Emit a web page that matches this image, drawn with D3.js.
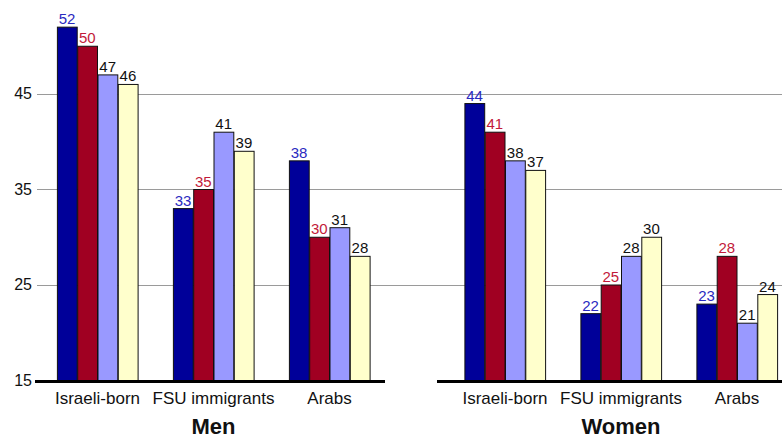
<!DOCTYPE html>
<html>
<head>
<meta charset="utf-8">
<script src="https://cdn.jsdelivr.net/npm/d3@7"></script>
<style>
  html, body { margin: 0; padding: 0; background: #fff; }
  svg { display: block; font-family: "Liberation Sans", Arial, sans-serif; }
</style>
</head>
<body>
<svg id="chart" width="782" height="439"></svg>
<script>
// Groups shown in each panel
const categories = ["Israeli-born", "FSU immigrants", "Arabs"];
const seriesKeys = ["s1", "s2", "s3", "s4"];

// Values per group, four bars each (same series order in both panels)
const menValues = [
  [52, 50, 47, 46],
  [33, 35, 41, 39],
  [38, 30, 31, 28]
];
const womenValues = [
  [44, 41, 38, 37],
  [22, 25, 28, 30],
  [23, 28, 21, 24]
];

const yTicks = [15, 25, 35, 45];
const panelTitles = ["Men", "Women"];

const fills = ["#000099", "#A00022", "#9999FF", "#FFFFCC"];
const labelColors = ["#2A2AC0", "#C21A3A", "#111111", "#111111"];

const FONT = "'Liberation Sans', Arial, sans-serif";
const svg = d3.select("#chart");

const y = d3.scaleLinear().domain([15, 45]).range([380, 93.5]);

// Horizontal gridlines across the full width
svg.append("g")
  .selectAll("line")
  .data(yTicks.filter(t => t !== 15))
  .join("line")
  .attr("x1", 37).attr("x2", 782)
  .attr("y1", d => Math.round(y(d)) + 0.5)
  .attr("y2", d => Math.round(y(d)) + 0.5)
  .attr("stroke", "#9a9a9a")
  .attr("stroke-width", 1.2);

// Left value axis labels
const yAxis = d3.axisLeft(y).tickValues(yTicks).tickSize(0).tickPadding(5);
const gy = svg.append("g").attr("transform", "translate(37,0)").call(yAxis);
gy.select(".domain").remove();
gy.attr("font-size", 16).attr("font-family", FONT);
gy.selectAll("text").attr("fill", "#111");

const panels = [
  { values: menValues, range: [39.5, 387.5], base: [35, 385], title: panelTitles[0] },
  { values: womenValues, range: [447, 795], base: [437, 782], title: panelTitles[1] }
];

panels.forEach(p => {
  const x0 = d3.scaleBand().domain(categories).range(p.range)
    .paddingInner(0.3).paddingOuter(0.15);
  const x1 = d3.scaleBand().domain(seriesKeys).range([0, x0.bandwidth()]);

  const g = svg.append("g");

  const groups = g.selectAll("g.grp")
    .data(categories.map((c, i) => ({ c, vals: p.values[i] })))
    .join("g")
    .attr("class", "grp")
    .attr("transform", d => `translate(${x0(d.c)},0)`);

  groups.selectAll("rect")
    .data(d => d.vals.map((v, k) => ({ v, k })))
    .join("rect")
    .attr("x", d => x1(seriesKeys[d.k]) + 0.5)
    .attr("y", d => y(d.v) + 0.5)
    .attr("width", x1.bandwidth() - 0.5)
    .attr("height", d => y(15) - y(d.v))
    .attr("fill", d => fills[d.k])
    .attr("stroke", "#111")
    .attr("stroke-width", 1);

  groups.selectAll("text")
    .data(d => d.vals.map((v, k) => ({ v, k })))
    .join("text")
    .attr("x", d => x1(seriesKeys[d.k]) + x1.bandwidth() / 2)
    .attr("y", d => y(d.v) - 2.5)
    .attr("text-anchor", "middle")
    .attr("font-size", 15)
    .attr("font-family", FONT)
    .attr("fill", d => labelColors[d.k])
    .text(d => d.v);

  // Thick baseline
  g.append("line")
    .attr("x1", p.base[0]).attr("x2", p.base[1])
    .attr("y1", 381.5).attr("y2", 381.5)
    .attr("stroke", "#000").attr("stroke-width", 3);

  // Category labels
  const xAxis = d3.axisBottom(x0).tickSize(0).tickPadding(0);
  const gx = g.append("g").attr("transform", "translate(0,0)").call(xAxis);
  gx.select(".domain").remove();
  gx.attr("font-size", 17).attr("font-family", FONT);
  gx.selectAll("text")
    .attr("fill", "#111")
    .attr("y", 404)
    .attr("dy", null);

  // Panel title
  g.append("text")
    .attr("x", x0(categories[1]) + x0.bandwidth() / 2)
    .attr("y", 434)
    .attr("text-anchor", "middle")
    .attr("font-size", 22)
    .attr("font-weight", "bold")
    .attr("font-family", FONT)
    .attr("fill", "#111")
    .text(p.title);
});
</script>
</body>
</html>
